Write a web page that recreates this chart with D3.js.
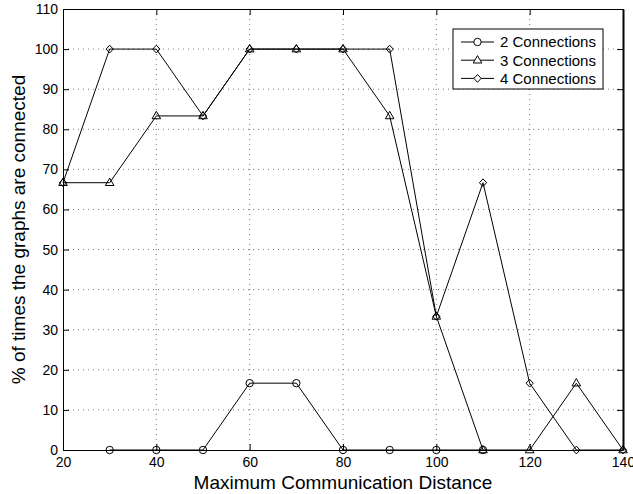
<!DOCTYPE html>
<html>
<head>
<meta charset="utf-8">
<script src="https://cdn.jsdelivr.net/npm/d3@7"></script>
<style>
  body { margin: 0; background: #fff; }
  text { font-family: "Liberation Sans", Arial, Helvetica, sans-serif; fill: #000; }
</style>
</head>
<body>
<div id="chart"></div>
<script>
// data
var distances = [20, 30, 40, 50, 60, 70, 80, 90, 100, 110, 120, 130, 140];
var conn2 = [null, 0, 0, 0, 16.67, 16.67, 0, 0, 0, 0, null, null, null];
var conn3 = [66.67, 66.67, 83.33, 83.33, 100, 100, 100, 83.33, 33.33, 0, 0, 16.67, 0];
var conn4 = [66.67, 100, 100, 83.33, 100, 100, 100, 100, 33.33, 66.67, 16.67, 0, 0];
var seriesNames = ["2 Connections", "3 Connections", "4 Connections"];
var markers = ["circle", "triangle", "diamond"];
var xTicks = [20, 40, 60, 80, 100, 120, 140];
var yTicks = [0, 10, 20, 30, 40, 50, 60, 70, 80, 90, 100, 110];

var width = 633;
var height = 494;
var margin = { top: 9, right: 10, bottom: 44, left: 63 };

var svg = d3
  .select("#chart")
  .append("svg")
  .attr("width", width)
  .attr("height", height);

var x = d3
  .scaleLinear()
  .domain([20, 140])
  .range([margin.left, width - margin.right]);

var y = d3
  .scaleLinear()
  .domain([0, 110])
  .range([height - margin.bottom, margin.top]);

// dotted grid
var grid = svg.append("g").attr("class", "grid");
grid
  .selectAll("line.gx")
  .data(xTicks.slice(1, -1))
  .enter()
  .append("line")
  .attr("x1", d => x(d))
  .attr("x2", d => x(d))
  .attr("y1", y(0))
  .attr("y2", y(110))
  .attr("stroke", "#777")
  .attr("stroke-dasharray", "1,4");
grid
  .selectAll("line.gy")
  .data(yTicks.slice(1, -1))
  .enter()
  .append("line")
  .attr("x1", x(20))
  .attr("x2", x(140))
  .attr("y1", d => y(d))
  .attr("y2", d => y(d))
  .attr("stroke", "#777")
  .attr("stroke-dasharray", "1,4");

// axes, ticks point inward like matlab
var tick = 6;
svg
  .append("g")
  .attr("transform", "translate(0," + y(0) + ")")
  .call(d3.axisBottom(x).tickValues(xTicks).tickSizeInner(-tick).tickSizeOuter(0).tickPadding(7))
  .call(g => g.selectAll("text").style("font-size", "14px"));
svg
  .append("g")
  .attr("transform", "translate(" + x(20) + ",0)")
  .call(d3.axisLeft(y).tickValues(yTicks).tickSizeInner(-tick).tickSizeOuter(0).tickPadding(5))
  .call(g => g.selectAll("text").style("font-size", "14px"));
svg
  .append("g")
  .attr("transform", "translate(0," + y(110) + ")")
  .call(d3.axisTop(x).tickValues(xTicks).tickSizeInner(-tick).tickSizeOuter(0).tickFormat(""));
var rightAxis = svg
  .append("g")
  .attr("transform", "translate(" + x(140) + ",0)")
  .call(d3.axisRight(y).tickValues(yTicks).tickSizeInner(-tick).tickSizeOuter(0).tickFormat(""));
svg.selectAll(".domain, .tick line").attr("stroke", "#000").attr("stroke-width", 1);
// right edge looks heavier in the original
rightAxis.select(".domain").attr("stroke-width", 2);

// marker shapes
function markerPath(type) {
  if (type === "circle") return "M3.7,0A3.7,3.7 0 1,1 -3.7,0A3.7,3.7 0 1,1 3.7,0Z";
  if (type === "triangle") return "M0,-4.6L4.3,2.8L-4.3,2.8Z";
  return "M0,-3.9L3.6,0L0,3.9L-3.6,0Z";
}

var allSeries = [conn2, conn3, conn4];
var line = d3
  .line()
  .defined(d => d.v !== null)
  .x(d => x(d.x))
  .y(d => y(d.v));

allSeries.forEach(function(vals, i) {
  var pts = distances.map((d, j) => ({ x: d, v: vals[j] }));
  var g = svg.append("g").attr("class", "series");
  g.append("path")
    .datum(pts)
    .attr("d", line)
    .attr("fill", "none")
    .attr("stroke", "#000")
    .attr("stroke-width", 1);
  g.selectAll("path.m")
    .data(pts.filter(d => d.v !== null))
    .enter()
    .append("path")
    .attr("class", "m")
    .attr("d", markerPath(markers[i]))
    .attr("transform", d => "translate(" + x(d.x) + "," + y(d.v) + ")")
    .attr("fill", "none")
    .attr("stroke", "#000")
    .attr("stroke-width", 1);
});

// legend
var legend = svg.append("g").attr("transform", "translate(453,29)");
legend
  .append("rect")
  .attr("width", 150)
  .attr("height", 60)
  .attr("fill", "#fff")
  .attr("stroke", "#000")
  .attr("stroke-width", 1);
seriesNames.forEach(function(name, i) {
  var ly = 13 + i * 18.2;
  legend
    .append("line")
    .attr("x1", 8)
    .attr("x2", 41)
    .attr("y1", ly)
    .attr("y2", ly)
    .attr("stroke", "#000");
  legend
    .append("path")
    .attr("d", markerPath(markers[i]))
    .attr("transform", "translate(24.5," + ly + ")")
    .attr("fill", "#fff")
    .attr("stroke", "#000");
  legend
    .append("text")
    .attr("x", 47)
    .attr("y", ly)
    .attr("dy", "0.36em")
    .style("font-size", "15px")
    .text(name);
});

// axis titles
svg
  .append("text")
  .attr("x", (x(20) + x(140)) / 2)
  .attr("y", 489)
  .attr("text-anchor", "middle")
  .style("font-size", "19px")
  .text("Maximum Communication Distance");
svg
  .append("text")
  .attr("transform", "translate(25," + (y(0) + y(110)) / 2 + ") rotate(-90)")
  .attr("text-anchor", "middle")
  .style("font-size", "19px")
  .text("% of times the graphs are connected");
</script>
</body>
</html>
